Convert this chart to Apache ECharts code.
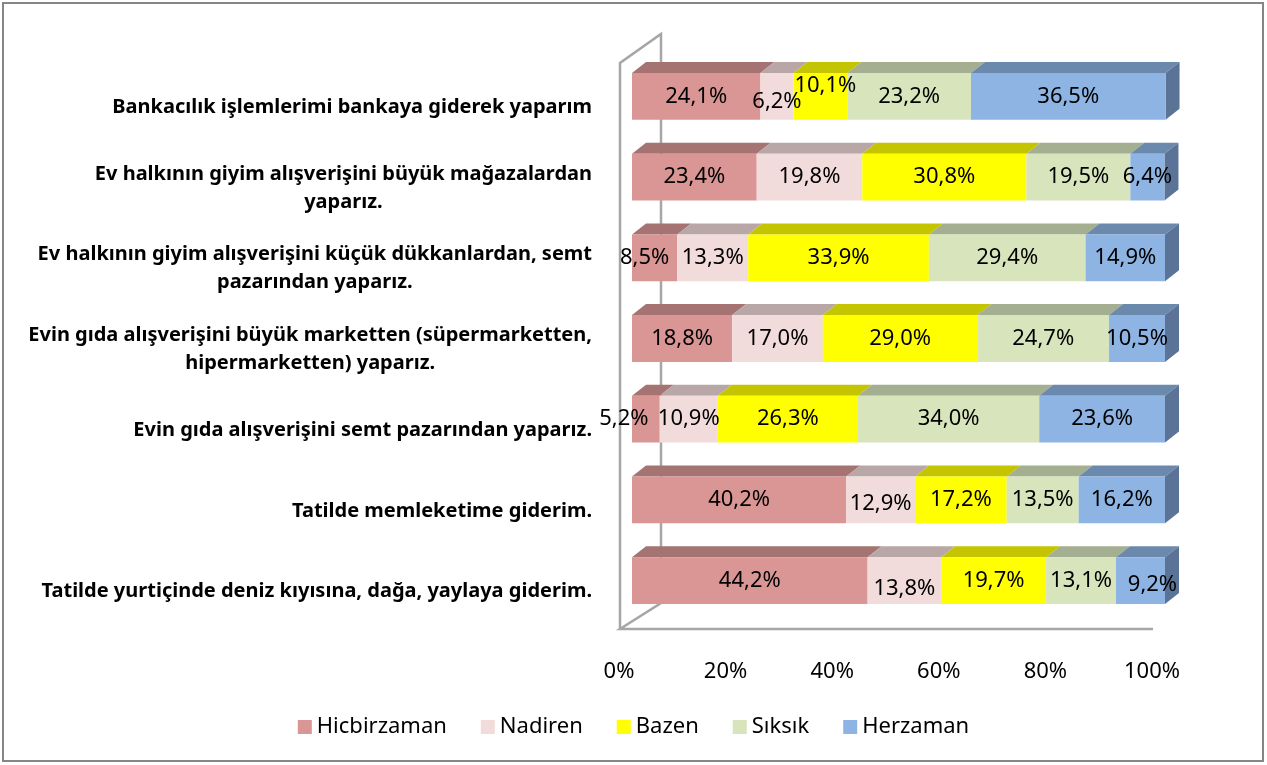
<!DOCTYPE html>
<html>
<head>
<meta charset="utf-8">
<script src="https://cdn.jsdelivr.net/npm/echarts@6/dist/echarts.min.js"></script>
<style>
html,body{margin:0;padding:0;background:#fff;}
#c{width:1267px;height:765px;}
</style>
</head>
<body>
<div id="c"></div>
<script>
const categories = [
  "Bankacılık işlemlerimi bankaya giderek yaparım",
  "Ev halkının giyim alışverişini büyük mağazalardan\nyaparız.",
  "Ev halkının giyim alışverişini küçük dükkanlardan, semt\npazarından yaparız.",
  "Evin gıda alışverişini büyük marketten (süpermarketten,\nhipermarketten) yaparız.",
  "Evin gıda alışverişini semt pazarından yaparız.",
  "Tatilde memleketime giderim.",
  "Tatilde yurtiçinde deniz kıyısına, dağa, yaylaya giderim."
];
const seriesNames = ["Hicbirzaman", "Nadiren", "Bazen", "Sıksık", "Herzaman"];
const hicbirzaman = [24.1, 23.4, 8.5, 18.8, 5.2, 40.2, 44.2];
const nadiren     = [6.2, 19.8, 13.3, 17.0, 10.9, 12.9, 13.8];
const bazen       = [10.1, 30.8, 33.9, 29.0, 26.3, 17.2, 19.7];
const siksik      = [23.2, 19.5, 29.4, 24.7, 34.0, 13.5, 13.1];
const herzaman    = [36.5, 6.4, 14.9, 10.5, 23.6, 16.2, 9.2];
const xTicks = [0, 20, 40, 60, 80, 100];

const allValues = [hicbirzaman, nadiren, bazen, siksik, herzaman];
const frontColors = ["#D99694", "#F2DCDB", "#FFFF00", "#D7E4BC", "#8EB4E3"];
const topColors   = ["#A57371", "#B9A7A7", "#C4C400", "#A4AE90", "#6B88AD"];
const sideColor = "#5A7396";
const DX = 14, DY = 11;
const FONT = "Noto Sans";
// label placement tweaks ("series-row" -> [dx, dy]) to mimic the original overlap avoidance
const labelNudge = { "1-0": [0, 5], "2-0": [5, -11], "0-2": [-10, 0], "0-4": [-22, 0], "1-5": [0, 4], "1-6": [0, 8], "4-6": [12, 4] };

const cum = categories.map(() => 0);
const series = allValues.map((vals, si) => {
  const data = vals.map((v, ci) => {
    const s = cum[ci];
    cum[ci] += v;
    return [s, s + v, ci, v];
  });
  const isLast = si === allValues.length - 1;
  return {
    name: seriesNames[si],
    type: 'custom',
    itemStyle: { color: frontColors[si] },
    encode: { x: [0, 1], y: 2 },
    data: data,
    renderItem: function (params, api) {
      const ci = api.value(2);
      const p0 = api.coord([api.value(0), ci]);
      const p1 = api.coord([api.value(1), ci]);
      const bh = api.size([0, 1])[1] * 0.58;
      const top = p0[1] - bh / 2, bot = p0[1] + bh / 2;
      const x0 = p0[0], x1 = p1[0];
      const children = [
        { type: 'polygon', z2: 1, shape: { points: [[x0, top], [x1, top], [x1 + DX, top - DY], [x0 + DX, top - DY]] },
          style: { fill: topColors[si] } },
        { type: 'rect', z2: 2, shape: { x: x0, y: top, width: x1 - x0, height: bh },
          style: { fill: frontColors[si] } }
      ];
      if (isLast) {
        children.push({ type: 'polygon', z2: 1, shape: { points: [[x1, top], [x1 + DX, top - DY], [x1 + DX, bot - DY], [x1, bot]] },
          style: { fill: sideColor } });
      }
      const nd = labelNudge[si + '-' + ci] || [0, 0];
      children.push({ type: 'text', z2: 50,
        style: { text: api.value(3).toFixed(1).replace('.', ',') + '%', x: (x0 + x1) / 2 + nd[0], y: p0[1] + nd[1],
          align: 'center', verticalAlign: 'middle', fill: '#000', font: '22px "' + FONT + '"' } });
      return { type: 'group', children: children };
    }
  };
});

const chart = echarts.init(document.getElementById('c'));
chart.setOption({
  animation: false,
  color: frontColors,
  grid: { left: 632, right: 102, top: 56, bottom: 144, containLabel: false },
  xAxis: {
    type: 'value', min: xTicks[0], max: xTicks[xTicks.length - 1], interval: 20,
    axisLine: { show: false }, axisTick: { show: false }, splitLine: { show: false },
    axisLabel: { formatter: '{value}%', margin: 40, fontSize: 22, color: '#000', fontFamily: FONT, padding: [0, 26, 0, 0] }
  },
  yAxis: {
    type: 'category', data: categories, inverse: true,
    axisLine: { show: false }, axisTick: { show: false },
    axisLabel: {
      margin: 40, color: '#000', padding: [22, 0, 0, 0],
      formatter: function (v) { return v.split('\n').map(l => '{a|' + l + '}').join('\n'); },
      rich: { a: { fontFamily: FONT, fontWeight: 'bold', fontSize: 20, lineHeight: 28, align: 'center', color: '#000' } }
    }
  },
  legend: {
    data: seriesNames, top: 711, left: 'center', icon: 'rect', itemWidth: 14, itemHeight: 14, itemGap: 34,
    textStyle: { fontSize: 22, color: '#000', fontFamily: FONT }
  },
  graphic: [
    { type: 'rect', shape: { x: 3, y: 3, width: 1260, height: 758 }, style: { fill: 'none', stroke: '#868686', lineWidth: 2 }, z: -10 },
    { type: 'polyline', shape: { points: [[620, 629], [620, 63], [661, 34], [661, 603], [620, 629], [1153, 629]] },
      style: { fill: 'none', stroke: '#A6A6A6', lineWidth: 2.5 }, z: -5 }
  ],
  series: series
});
</script>
</body>
</html>
